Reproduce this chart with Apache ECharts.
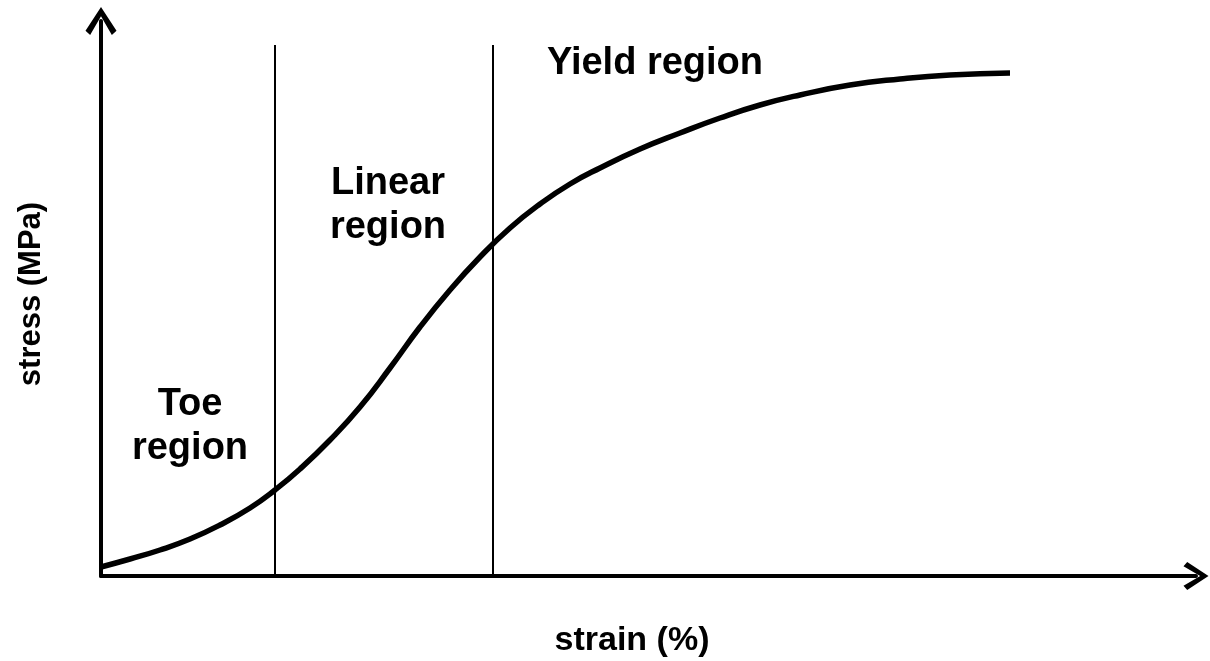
<!DOCTYPE html>
<html>
<head>
<meta charset="utf-8">
<script src="https://cdn.jsdelivr.net/npm/echarts@6/dist/echarts.min.js"></script>
<style>html,body{margin:0;padding:0;background:#fff;}#c{width:1210px;height:661px;}</style>
</head>
<body>
<div id="c"></div>
<script>
// strain (arbitrary units) and stress (arbitrary units)
const strain = [0.00, 0.29, 0.59, 0.89, 1.19, 1.49, 1.74, 1.99, 2.29, 2.59, 2.89, 3.19, 3.49, 3.79, 4.09, 4.39, 4.69, 4.99, 5.39, 5.79, 6.19, 6.59, 6.99, 7.49, 7.99, 8.49, 9.09];
const stress = [0.09, 0.17, 0.26, 0.37, 0.51, 0.68, 0.86, 1.07, 1.36, 1.69, 2.08, 2.49, 2.86, 3.19, 3.48, 3.72, 3.92, 4.08, 4.27, 4.43, 4.58, 4.71, 4.81, 4.91, 4.97, 5.01, 5.03];
const boundaries = [1.74, 3.92];
const boundaryTop = 5.31;
const regionLabels = ['Toe\nregion', 'Linear\nregion', 'Yield region'];
const xTitle = 'strain (%)';
const yTitle = 'stress (MPa)';
const xMax = 10.96;
const yMax = 5.56;

const chart = echarts.init(document.getElementById('c'), null, {renderer: 'canvas'});
const curve = strain.map((x, i) => [x, stress[i]]);
const series = [{
  type: 'line',
  data: curve,
  smooth: 0.5,
  showSymbol: false,
  symbol: 'none',
  lineStyle: {color: '#000', width: 5.5, cap: 'butt'},
  silent: true,
  z: 3
}];
boundaries.forEach(b => {
  series.push({
    type: 'line',
    data: [[b, 0], [b, boundaryTop]],
    showSymbol: false,
    symbol: 'none',
    lineStyle: {color: '#000', width: 2},
    silent: true,
    z: 2
  });
});
const chevron = 'path://M15,0 L30,23 L25.5,27 L15,9 L4.5,27 L0,23 Z';
const font = '"Liberation Sans", Arial, sans-serif';
chart.setOption({
  animation: false,
  backgroundColor: '#fff',
  grid: {left: 101, right: 14, top: 21, bottom: 85, containLabel: false},
  xAxis: {
    type: 'value', min: 0, max: xMax - 0.01,
    axisLine: {show: true, onZero: false, lineStyle: {color: '#000', width: 4}, symbol: ['none', chevron], symbolSize: [29, 25]},
    axisTick: {show: false}, axisLabel: {show: false}, splitLine: {show: false}
  },
  yAxis: {
    type: 'value', min: 0, max: yMax - 0.01,
    axisLine: {show: true, onZero: false, lineStyle: {color: '#000', width: 4}, symbol: ['none', chevron], symbolSize: [31, 29]},
    axisTick: {show: false}, axisLabel: {show: false}, splitLine: {show: false}
  },
  series: series,
  graphic: [
    {type: 'text', x: 632, y: 641, style: {text: xTitle, font: 'bold 34px ' + font, fill: '#000', textAlign: 'center', textVerticalAlign: 'middle'}},
    {type: 'text', x: 31, y: 294, rotation: Math.PI / 2, style: {text: yTitle, font: 'bold 31px ' + font, fill: '#000', textAlign: 'center', textVerticalAlign: 'middle'}},
    {type: 'text', x: 190, y: 427, style: {text: regionLabels[0], font: 'bold 38px ' + font, fill: '#000', textAlign: 'center', textVerticalAlign: 'middle', lineHeight: 44}},
    {type: 'text', x: 388, y: 206, style: {text: regionLabels[1], font: 'bold 38px ' + font, fill: '#000', textAlign: 'center', textVerticalAlign: 'middle', lineHeight: 44}},
    {type: 'text', x: 655, y: 64, style: {text: regionLabels[2], font: 'bold 38px ' + font, fill: '#000', textAlign: 'center', textVerticalAlign: 'middle'}}
  ]
});
</script>
</body>
</html>
